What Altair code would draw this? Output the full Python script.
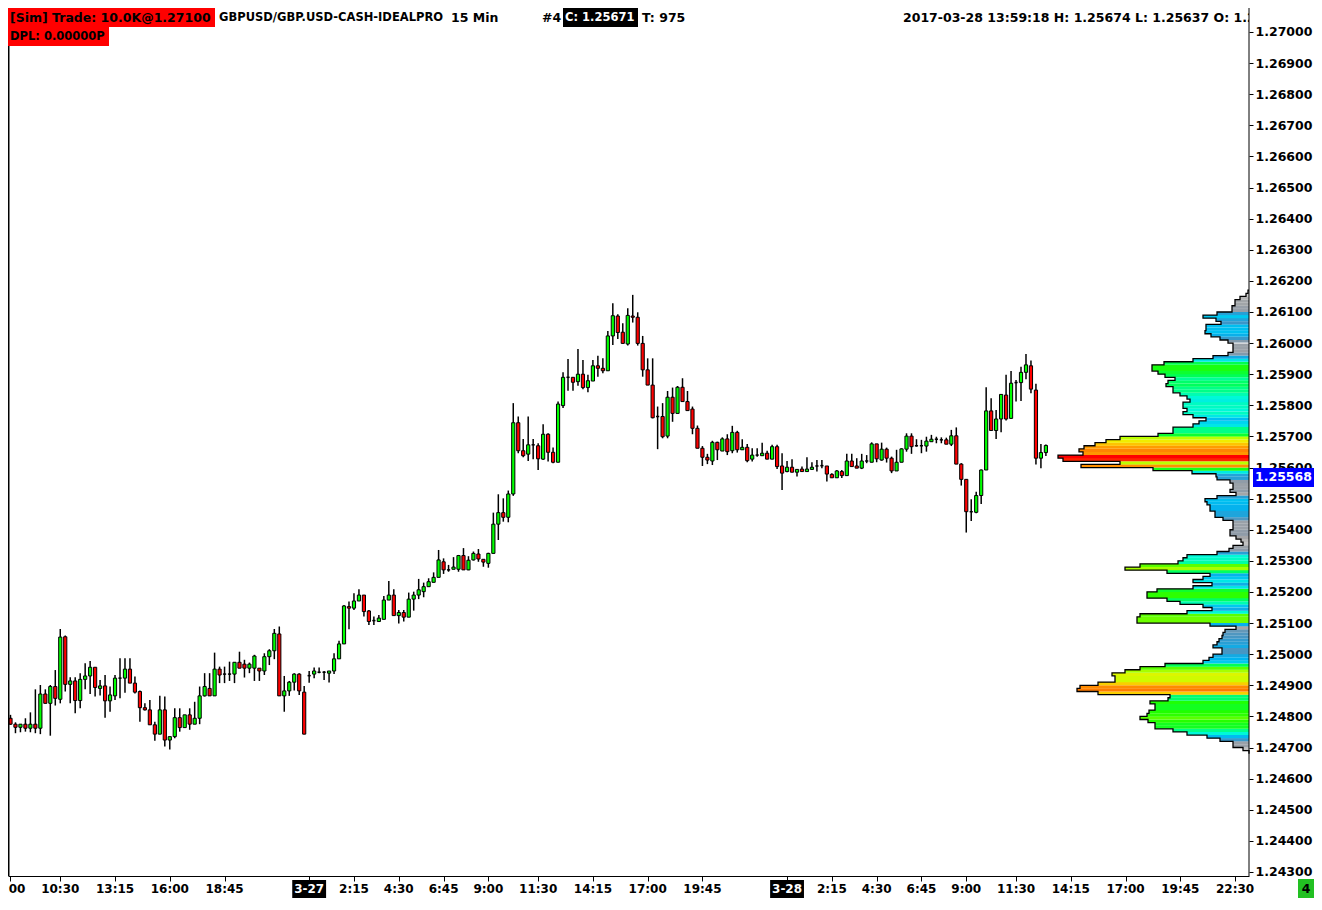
import altair as alt
import pandas as pd

W, H = 1241, 868
XMIN, XMAX = -0.5, 248.8
YMIN, YMAX = 1.24287, 1.270771
PXB = W / (XMAX - XMIN)
PPY = H / (YMAX - YMIN)
FONT = "DejaVu Sans"

OPEN = [1.24794, 1.24775, 1.24765, 1.24775, 1.24762, 1.24775, 1.24762, 1.24872, 1.24842, 1.24896,
        1.24855, 1.25056, 1.24903, 1.24914, 1.24851, 1.24919, 1.24930, 1.24958, 1.24890, 1.24898,
        1.24850, 1.24866, 1.24923, 1.24923, 1.24952, 1.24907, 1.24880, 1.24828, 1.24821, 1.24773,
        1.24743, 1.24821, 1.24724, 1.24735, 1.24796, 1.24764, 1.24805, 1.24775, 1.24794, 1.24866,
        1.24890, 1.24866, 1.24952, 1.24936, 1.24936, 1.24936, 1.24974, 1.24968, 1.24955, 1.24955,
        1.24955, 1.24946, 1.24992, 1.25011, 1.25065, 1.24866, 1.24882, 1.24910, 1.24936, 1.24878,
        1.24931, 1.24936, 1.24942, 1.24942, 1.24939, 1.24946, 1.24985, 1.25033, 1.25153, 1.25148,
        1.25171, 1.25190, 1.25139, 1.25108, 1.25105, 1.25112, 1.25174, 1.25190, 1.25124, 1.25134,
        1.25119, 1.25177, 1.25190, 1.25201, 1.25217, 1.25231, 1.25247, 1.25297, 1.25271, 1.25273,
        1.25273, 1.25317, 1.25271, 1.25303, 1.25322, 1.25305, 1.25292, 1.25324, 1.25418, 1.25455,
        1.25440, 1.25515, 1.25744, 1.25654, 1.25643, 1.25673, 1.25670, 1.25627, 1.25707, 1.25649,
        1.25617, 1.25799, 1.25890, 1.25890, 1.25876, 1.25900, 1.25857, 1.25878, 1.25927, 1.25919,
        1.25911, 1.26023, 1.26087, 1.26035, 1.25997, 1.26087, 1.26083, 1.25999, 1.25914, 1.25865,
        1.25764, 1.25764, 1.25701, 1.25826, 1.25774, 1.25858, 1.25812, 1.25788, 1.25726, 1.25662,
        1.25633, 1.25621, 1.25681, 1.25653, 1.25692, 1.25654, 1.25713, 1.25657, 1.25665, 1.25627,
        1.25640, 1.25638, 1.25646, 1.25627, 1.25667, 1.25605, 1.25587, 1.25601, 1.25585, 1.25595,
        1.25587, 1.25594, 1.25605, 1.25606, 1.25605, 1.25578, 1.25567, 1.25587, 1.25574, 1.25621,
        1.25605, 1.25598, 1.25621, 1.25617, 1.25676, 1.25624, 1.25659, 1.25630, 1.25589, 1.25617,
        1.25659, 1.25701, 1.25670, 1.25670, 1.25669, 1.25683, 1.25691, 1.25689, 1.25689, 1.25675,
        1.25702, 1.25611, 1.25562, 1.25458, 1.25456, 1.25510, 1.25592, 1.25782, 1.25719, 1.25756,
        1.25833, 1.25758, 1.25873, 1.25873, 1.25906, 1.25927, 1.25849, 1.25630, 1.25648]

HIGH = [1.24805, 1.24781, 1.24775, 1.24794, 1.24813, 1.24887, 1.24901, 1.24887, 1.24901, 1.24949,
        1.25081, 1.25060, 1.24926, 1.24926, 1.24939, 1.24971, 1.24978, 1.24958, 1.24917, 1.24933,
        1.24896, 1.24933, 1.24987, 1.24987, 1.24987, 1.24928, 1.24883, 1.24842, 1.24853, 1.24783,
        1.24866, 1.24864, 1.24735, 1.24826, 1.24826, 1.24805, 1.24826, 1.24847, 1.24896, 1.24939,
        1.24939, 1.25005, 1.24960, 1.24960, 1.24976, 1.24974, 1.25008, 1.24982, 1.24973, 1.24998,
        1.24955, 1.25003, 1.25016, 1.25081, 1.25089, 1.24930, 1.24914, 1.24939, 1.24939, 1.24898,
        1.24946, 1.24957, 1.24957, 1.24946, 1.24946, 1.25003, 1.25043, 1.25158, 1.25169, 1.25196,
        1.25209, 1.25190, 1.25142, 1.25121, 1.25126, 1.25187, 1.25235, 1.25209, 1.25142, 1.25142,
        1.25198, 1.25201, 1.25242, 1.25230, 1.25244, 1.25263, 1.25335, 1.25308, 1.25287, 1.25312,
        1.25319, 1.25341, 1.25315, 1.25330, 1.25338, 1.25305, 1.25326, 1.25455, 1.25514, 1.25501,
        1.25526, 1.25807, 1.25764, 1.25692, 1.25764, 1.25692, 1.25678, 1.25739, 1.25710, 1.25664,
        1.25812, 1.25906, 1.25949, 1.25890, 1.25981, 1.25946, 1.25898, 1.25946, 1.25959, 1.25951,
        1.26039, 1.26128, 1.26093, 1.26064, 1.26112, 1.26155, 1.26099, 1.26023, 1.25951, 1.25951,
        1.25796, 1.25807, 1.25846, 1.25857, 1.25862, 1.25887, 1.25846, 1.25796, 1.25735, 1.25669,
        1.25644, 1.25686, 1.25683, 1.25697, 1.25707, 1.25734, 1.25718, 1.25691, 1.25676, 1.25662,
        1.25662, 1.25680, 1.25654, 1.25673, 1.25673, 1.25646, 1.25621, 1.25627, 1.25594, 1.25603,
        1.25633, 1.25617, 1.25624, 1.25624, 1.25605, 1.25582, 1.25592, 1.25592, 1.25644, 1.25644,
        1.25630, 1.25644, 1.25640, 1.25681, 1.25676, 1.25680, 1.25664, 1.25635, 1.25657, 1.25662,
        1.25710, 1.25710, 1.25691, 1.25689, 1.25699, 1.25705, 1.25699, 1.25697, 1.25696, 1.25721,
        1.25729, 1.25614, 1.25562, 1.25498, 1.25522, 1.25594, 1.25858, 1.25823, 1.25785, 1.25835,
        1.25898, 1.25910, 1.25881, 1.25924, 1.25965, 1.25944, 1.25869, 1.25676, 1.25674]

LOW = [1.24773, 1.24746, 1.24749, 1.24751, 1.24749, 1.24746, 1.24743, 1.24842, 1.24738, 1.24835,
       1.24842, 1.24880, 1.24842, 1.24810, 1.24826, 1.24887, 1.24872, 1.24864, 1.24867, 1.24796,
       1.24815, 1.24853, 1.24858, 1.24876, 1.24907, 1.24874, 1.24783, 1.24819, 1.24773, 1.24722,
       1.24743, 1.24703, 1.24694, 1.24730, 1.24751, 1.24764, 1.24757, 1.24775, 1.24775, 1.24864,
       1.24866, 1.24866, 1.24907, 1.24907, 1.24914, 1.24907, 1.24955, 1.24925, 1.24939, 1.24914,
       1.24914, 1.24933, 1.24965, 1.24984, 1.24866, 1.24815, 1.24866, 1.24883, 1.24869, 1.24743,
       1.24908, 1.24923, 1.24939, 1.24917, 1.24909, 1.24936, 1.24985, 1.25033, 1.25080, 1.25142,
       1.25171, 1.25121, 1.25094, 1.25094, 1.25105, 1.25112, 1.25174, 1.25124, 1.25099, 1.25105,
       1.25119, 1.25140, 1.25177, 1.25183, 1.25217, 1.25231, 1.25247, 1.25258, 1.25265, 1.25273,
       1.25265, 1.25271, 1.25270, 1.25301, 1.25297, 1.25281, 1.25278, 1.25324, 1.25367, 1.25426,
       1.25424, 1.25509, 1.25646, 1.25633, 1.25621, 1.25627, 1.25592, 1.25624, 1.25619, 1.25614,
       1.25617, 1.25791, 1.25847, 1.25847, 1.25863, 1.25852, 1.25842, 1.25878, 1.25892, 1.25903,
       1.25911, 1.25994, 1.26013, 1.25999, 1.25992, 1.26066, 1.25992, 1.25892, 1.25865, 1.25758,
       1.25659, 1.25694, 1.25694, 1.25747, 1.25774, 1.25812, 1.25783, 1.25707, 1.25662, 1.25605,
       1.25611, 1.25608, 1.25624, 1.25653, 1.25640, 1.25646, 1.25648, 1.25657, 1.25617, 1.25619,
       1.25635, 1.25638, 1.25627, 1.25627, 1.25595, 1.25528, 1.25585, 1.25585, 1.25571, 1.25587,
       1.25587, 1.25592, 1.25587, 1.25598, 1.25555, 1.25566, 1.25566, 1.25566, 1.25574, 1.25603,
       1.25598, 1.25595, 1.25614, 1.25617, 1.25617, 1.25622, 1.25616, 1.25582, 1.25589, 1.25617,
       1.25651, 1.25644, 1.25667, 1.25646, 1.25651, 1.25683, 1.25678, 1.25678, 1.25675, 1.25669,
       1.25611, 1.25542, 1.25391, 1.25428, 1.25453, 1.25483, 1.25592, 1.25719, 1.25692, 1.25713,
       1.25751, 1.25756, 1.25812, 1.25814, 1.25884, 1.25839, 1.25610, 1.25598, 1.25637]

CLOSE = [1.24775, 1.24765, 1.24775, 1.24762, 1.24775, 1.24762, 1.24872, 1.24842, 1.24896, 1.24858,
         1.25055, 1.24903, 1.24914, 1.24851, 1.24919, 1.24930, 1.24958, 1.24893, 1.24898, 1.24850,
         1.24869, 1.24923, 1.24923, 1.24952, 1.24907, 1.24878, 1.24828, 1.24821, 1.24773, 1.24743,
         1.24821, 1.24724, 1.24735, 1.24796, 1.24764, 1.24805, 1.24775, 1.24794, 1.24866, 1.24896,
         1.24866, 1.24952, 1.24933, 1.24936, 1.24936, 1.24974, 1.24955, 1.24955, 1.24968, 1.24994,
         1.24946, 1.24992, 1.25011, 1.25067, 1.24866, 1.24882, 1.24910, 1.24936, 1.24882, 1.24743,
         1.24931, 1.24946, 1.24942, 1.24942, 1.24946, 1.24985, 1.25033, 1.25155, 1.25148, 1.25171,
         1.25190, 1.25137, 1.25105, 1.25108, 1.25116, 1.25174, 1.25190, 1.25124, 1.25134, 1.25119,
         1.25177, 1.25190, 1.25207, 1.25217, 1.25233, 1.25247, 1.25303, 1.25271, 1.25271, 1.25280,
         1.25317, 1.25271, 1.25302, 1.25324, 1.25306, 1.25296, 1.25324, 1.25418, 1.25455, 1.25440,
         1.25515, 1.25744, 1.25654, 1.25638, 1.25673, 1.25673, 1.25628, 1.25707, 1.25649, 1.25617,
         1.25804, 1.25890, 1.25890, 1.25874, 1.25900, 1.25857, 1.25879, 1.25927, 1.25919, 1.25911,
         1.26023, 1.26088, 1.26034, 1.25999, 1.26089, 1.26083, 1.25999, 1.25914, 1.25865, 1.25760,
         1.25764, 1.25699, 1.25826, 1.25774, 1.25858, 1.25812, 1.25783, 1.25726, 1.25662, 1.25633,
         1.25624, 1.25681, 1.25657, 1.25692, 1.25651, 1.25713, 1.25657, 1.25665, 1.25622, 1.25640,
         1.25640, 1.25646, 1.25627, 1.25667, 1.25603, 1.25582, 1.25601, 1.25585, 1.25594, 1.25587,
         1.25595, 1.25601, 1.25605, 1.25606, 1.25579, 1.25567, 1.25589, 1.25574, 1.25621, 1.25603,
         1.25598, 1.25621, 1.25621, 1.25676, 1.25628, 1.25659, 1.25630, 1.25589, 1.25617, 1.25660,
         1.25701, 1.25667, 1.25670, 1.25670, 1.25685, 1.25691, 1.25691, 1.25689, 1.25675, 1.25702,
         1.25611, 1.25562, 1.25458, 1.25458, 1.25510, 1.25592, 1.25782, 1.25719, 1.25756, 1.25835,
         1.25756, 1.25871, 1.25873, 1.25906, 1.25930, 1.25852, 1.25630, 1.25648, 1.25671]

TICK_BARS = [0, 10, 21, 32, 43, 60, 69, 78, 87, 96, 106, 117, 128, 139,
             156, 165, 174, 183, 192, 202, 213, 224, 235, 246]
TICK_LABELS = ["8:00", "10:30", "13:15", "16:00", "18:45", "3-27", "2:15", "4:30", "6:45",
               "9:00", "11:30", "14:15", "17:00", "19:45", "3-28", "2:15", "4:30", "6:45",
               "9:00", "11:30", "14:15", "17:00", "19:45", "22:30"]
DATE_LABELS = ["3-27", "3-28"]

PRICE_TICKS = [1.243, 1.244, 1.245, 1.246, 1.247, 1.248, 1.249, 1.250, 1.251, 1.252,
               1.253, 1.254, 1.255, 1.256, 1.257, 1.258, 1.259, 1.260, 1.261, 1.262,
               1.263, 1.264, 1.265, 1.266, 1.267, 1.268, 1.269, 1.270]

PROFILE_BASE = 1.2468
PROFILE_STEP = 0.0001
PROFILE_VOL = [0, 6,
               16, 16, 29, 42, 62, 76, 94, 94, 101, 109,
               102, 100, 94, 94, 99, 81, 79, 151, 172, 169,
               151, 134, 134, 137, 124, 109, 84, 46, 40, 36,
               27, 27, 36, 32, 30, 27, 26, 24, 13, 39,
               112, 112, 109, 62, 37, 46, 69, 82, 102, 102,
               92, 56, 37, 56, 46, 39, 82, 124, 109, 71,
               66, 62, 32, 20, 16, 6, 8, 13, 19, 19,
               16, 16, 16, 26, 34, 34, 39, 39, 42, 44,
               32, 13, 19, 16, 16, 19, 32, 33, 57, 96,
               168, 129, 186, 191, 166, 170, 165, 154, 143, 129,
               91, 76, 76, 56, 50, 43, 56, 66, 62, 66,
               66, 59, 62, 69, 76, 76, 83, 81, 74, 84,
               91, 97, 97, 85, 56, 36, 21, 16, 16, 16,
               21, 29, 38, 44, 43, 43, 28, 33, 46, 32,
               17, 17, 14, 14, 9, 3, 1, 0]
VOL_STOPS = [0, 12, 20, 28, 40, 52, 62, 72, 85, 100, 115, 130, 142, 155, 168, 180, 191]
VOL_COLORS = ["#d8d8d8", "#a8a8a8", "#8c9aa8", "#3c96c8", "#00b4f0", "#00dcf0", "#00f8d8",
              "#00ffa0", "#00ff50", "#20ff00", "#80ff00", "#c0ff00", "#f0f000", "#ffc000",
              "#ff9000", "#ff5000", "#ff0000"]

LAST_PRICE = 1.25568

HDR_TRADE = "[Sim]  Trade: 10.0K@1.27100"
HDR_SYMBOL = "GBPUSD/GBP.USD-CASH-IDEALPRO"
HDR_PERIOD = "15 Min"
HDR_NUM = "#4"
HDR_CLOSE = "C: 1.25671"
HDR_TICKS = "T: 975"
HDR_RIGHT = "2017-03-28 13:59:18 H: 1.25674 L: 1.25637 O: 1.25648"
HDR_DPL = "DPL: 0.00000P"
CORNER = "4"

# ---------------------------------------------------------------------------
candles = pd.DataFrame({"bar": list(range(len(OPEN))), "o": OPEN, "h": HIGH,
                        "l": LOW, "c": CLOSE})

xs = alt.Scale(domain=[XMIN, XMAX], nice=False, zero=False)
ys = alt.Scale(domain=[YMIN, YMAX], nice=False, zero=False)
xaxis = alt.Axis(values=TICK_BARS, labels=False, ticks=True, tickSize=5, tickColor="black",
                 tickWidth=1, domain=True, domainColor="black", domainWidth=1, grid=False,
                 title=None)
yaxis = alt.Axis(orient="right", values=PRICE_TICKS, format=".5f", labelFont=FONT,
                 labelFontWeight="bold", labelFontSize=12.5, labelColor="black",
                 labelPadding=2, tickSize=4, tickColor="black", domain=False, grid=False,
                 title=None, labelOverlap=False, labelFlush=False)


def X(f):
    return alt.X(f, type="quantitative", scale=xs, axis=xaxis)


def Y(f):
    return alt.Y(f, type="quantitative", scale=ys, axis=yaxis)


base = alt.Chart(candles)
wicks = base.mark_rule(color="black", strokeWidth=1.5).encode(x=X("bar"), y=Y("l"), y2="h")
bodies = base.transform_calculate(bl="datum.bar - 0.32", br="datum.bar + 0.32",
                                  top="max(datum.o, datum.c)", bot="min(datum.o, datum.c)")
up = bodies.transform_filter("datum.c > datum.o").mark_rect(
    fill="#00ff00", stroke="black", strokeWidth=1).encode(x=X("bl"), x2="br", y=Y("bot"), y2="top")
down = bodies.transform_filter("datum.c < datum.o").mark_rect(
    fill="#ff0000", stroke="black", strokeWidth=1).encode(x=X("bl"), x2="br", y=Y("bot"), y2="top")
flat = bodies.transform_filter("datum.c == datum.o").mark_rule(
    color="black", strokeWidth=1.5).encode(x=X("bl"), x2="br", y=Y("o"))

prof = pd.DataFrame({"p": [PROFILE_BASE + i * PROFILE_STEP for i in range(len(PROFILE_VOL))],
                     "vol": PROFILE_VOL})
prof_base = alt.Chart(prof).transform_calculate(
    xl=f"{XMAX} - datum.vol / {PXB}", xr=f"{XMAX}", p2=f"datum.p + {PROFILE_STEP * 1.04}")
prof_rects = prof_base.transform_filter("datum.vol > 0").mark_rect().encode(
    x=X("xl"), x2="xr", y=Y("p"), y2="p2",
    fill=alt.Fill("vol:Q", scale=alt.Scale(domain=VOL_STOPS, range=VOL_COLORS,
                                            interpolate="rgb", clamp=True), legend=None))
white_line = alt.Chart(pd.DataFrame({"p": [1.26]})).transform_calculate(
    x1="225", x2=f"{XMAX}").mark_rule(color="white", strokeWidth=1).encode(
    x=X("x1"), x2="x2", y=Y("p"))
prof_line = prof_base.mark_line(color="black", strokeWidth=1.3, interpolate="step-before").encode(
    x=X("xl"), y=Y("p"), order=alt.Order("p:Q"))

one = pd.DataFrame({"k": [0]})
y_axis_line = alt.Chart(one).mark_rule(color="black", strokeWidth=1).encode(
    x=alt.value(W), y=alt.value(0), y2=alt.value(H))
left_line = alt.Chart(one).mark_rule(color="black", strokeWidth=1.5).encode(
    x=alt.value(0.75), y=alt.value(0), y2=alt.value(H))

ticks_df = pd.DataFrame({"bar": TICK_BARS, "label": TICK_LABELS,
                         "isdate": [lab in DATE_LABELS for lab in TICK_LABELS]})
date_boxes = alt.Chart(ticks_df).transform_filter("datum.isdate").transform_calculate(
    bl="datum.bar - 3.4", br="datum.bar + 3.4").mark_rect(fill="black").encode(
    x=X("bl"), x2="br", y=alt.value(H + 4), y2=alt.value(H + 22))
tick_text = alt.Chart(ticks_df).mark_text(font=FONT, fontWeight="bold", fontSize=12,
                                          baseline="middle", align="center").encode(
    x=X("bar"), y=alt.value(H + 13), text="label:N",
    color=alt.condition("datum.isdate", alt.value("white"), alt.value("black")))

lp = pd.DataFrame({"price": [LAST_PRICE], "label": [f"{LAST_PRICE:.5f}"]})
lp_box = alt.Chart(lp).transform_calculate(
    pt=f"datum.price + {9.5 / PPY}", pb=f"datum.price - {9.5 / PPY}").mark_rect(
    fill="#0000ff").encode(x=alt.value(W + 4), x2=alt.value(W + 65), y=Y("pt"), y2="pb")
lp_text = alt.Chart(lp).mark_text(font=FONT, fontWeight="bold", fontSize=12.5, color="white",
                                  align="left", baseline="middle").encode(
    x=alt.value(W + 6), y=Y("price"), text="label:N")


def box(x1, x2, y1, y2, fill):
    return alt.Chart(one).mark_rect(fill=fill).encode(
        x=alt.value(x1), x2=alt.value(x2), y=alt.value(y1), y2=alt.value(y2))


def txt(s, x, y, color="black", size=12.5, clip=False, align="left"):
    return alt.Chart(one).mark_text(text=s, font=FONT, fontWeight="bold", fontSize=size,
                                    color=color, align=align, baseline="middle",
                                    clip=clip).encode(x=alt.value(x), y=alt.value(y))


header = [
    box(0, 207, 0, 19, "#ff0000"),
    box(0, 101, 19, 38, "#ff0000"),
    box(555, 630, 0, 19, "black"),
    txt(HDR_TRADE, 2, 10),
    txt(HDR_SYMBOL, 211, 10, size=11.5),
    txt(HDR_PERIOD, 443, 10),
    txt(HDR_NUM, 534, 10),
    txt(HDR_CLOSE, 557, 10, color="white", size=11.5),
    txt(HDR_TICKS, 634, 10),
    txt(HDR_RIGHT, 895, 10, size=12.5, clip=True),
    txt(HDR_DPL, 2, 29, size=11.5),
    box(W + 49, W + 65, H + 3, H + 22, "#22c022"),
    txt(CORNER, W + 57, H + 13, align="center"),
]

chart = alt.layer(
    wicks, up, down, flat,
    prof_rects, white_line, prof_line,
    y_axis_line, left_line,
    date_boxes, tick_text,
    lp_box, lp_text,
    *header,
).properties(
    width=W, height=H,
    autosize=alt.AutoSizeParams(type="none"),
    padding={"left": 0, "top": 0, "right": 65, "bottom": 22},
    background="white",
).configure_view(strokeWidth=0)

chart.save("out.html", embed_options={"renderer": "svg", "actions": False})
